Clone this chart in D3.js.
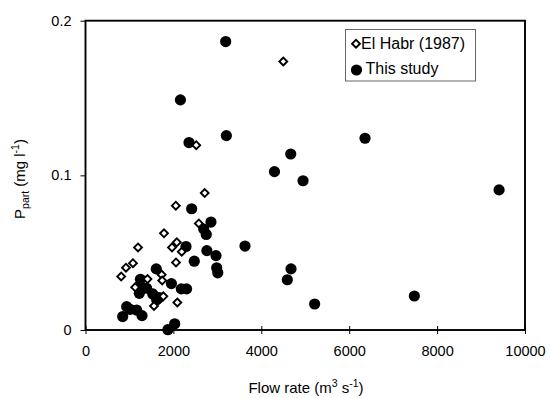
<!DOCTYPE html>
<html>
<head>
<meta charset="utf-8">
<script src="https://cdn.jsdelivr.net/npm/d3@7"></script>
<style>
  html, body { margin: 0; padding: 0; background: #fff; }
  svg { display: block; font-family: "Liberation Sans", Arial, sans-serif; }
</style>
</head>
<body>
<svg id="chart" width="550" height="398"></svg>
<script>
// Flow rate (m3 s-1) and particulate P (mg l-1)
const elHabrFlow = [4500, 2520, 2712, 2055, 2578, 1786, 1195, 2078, 1968, 2190, 2059,
                    1080, 921, 812, 1733, 1410, 1745, 1130, 1771, 1558, 2089];
const elHabrP    = [0.1736, 0.1195, 0.0886, 0.0804, 0.0689, 0.0625, 0.0534, 0.0567, 0.0534, 0.0506, 0.0437,
                    0.0432, 0.0403, 0.0346, 0.0358, 0.0329, 0.0320, 0.0276, 0.0218, 0.0155, 0.0178];

const studyFlow = [3190, 2160, 2355, 3205, 4300, 6360, 4670, 4950, 9410, 4676, 4592, 5214, 7482, 3629,
                   2415, 2855, 2690, 2748, 2287, 2762, 2969, 2475, 2985, 3010,
                   1610, 1250, 1955, 1235, 2180, 2300, 1225, 1390, 1530, 1680, 1620,
                   937, 1013, 1164, 846, 1286, 1875, 2030];
const studyP    = [0.1865, 0.1488, 0.1212, 0.1257, 0.1024, 0.1240, 0.1138, 0.0965, 0.0906, 0.0395, 0.0325, 0.0168, 0.0220, 0.0543,
                   0.0784, 0.0698, 0.0653, 0.0618, 0.0540, 0.0513, 0.0481, 0.0445, 0.0402, 0.0370,
                   0.0395, 0.0328, 0.0300, 0.0287, 0.0266, 0.0266, 0.0237, 0.0270, 0.0233, 0.0210, 0.0195,
                   0.0151, 0.0134, 0.0129, 0.0087, 0.0093, 0.0002, 0.0040];

const xTicks = [0, 2000, 4000, 6000, 8000, 10000];
const yTicks = [0, 0.1, 0.2];
const legendLabels = ["El Habr (1987)", "This study"];

const svg = d3.select("#chart");
const plotL = 85.5, plotR = 525, plotT = 20.7, plotB = 330;

const x = d3.scaleLinear().domain([0, 10000]).range([plotL, plotR]);
const y = d3.scaleLinear().domain([0, 0.2]).range([plotB, plotT]);

// plot frame
svg.append("rect")
  .attr("x", plotL).attr("y", plotT)
  .attr("width", plotR - plotL).attr("height", plotB - plotT)
  .attr("fill", "none").attr("stroke", "#000").attr("stroke-width", 1.9);

// x axis: ticks straddle the baseline
const xAxis = svg.append("g").attr("transform", `translate(0,${plotB})`)
  .call(d3.axisBottom(x).tickValues(xTicks).tickFormat(d3.format("d"))
    .tickSizeInner(4).tickSizeOuter(0).tickPadding(12));
xAxis.select(".domain").remove();
xAxis.selectAll(".tick line").attr("y1", -4).attr("y2", 4).attr("stroke", "#000").attr("stroke-width", 1);
xAxis.selectAll(".tick text").attr("font-size", "14.5px").attr("fill", "#000")
  .attr("font-family", "'Liberation Sans', Arial, sans-serif");

// y axis
const yAxis = svg.append("g").attr("transform", `translate(${plotL},0)`)
  .call(d3.axisLeft(y).tickValues(yTicks).tickFormat(d => d === 0 ? "0" : d3.format(".1f")(d))
    .tickSizeInner(5).tickSizeOuter(0).tickPadding(9));
yAxis.select(".domain").remove();
yAxis.selectAll(".tick line").attr("stroke", "#000").attr("stroke-width", 1);
yAxis.selectAll(".tick text").attr("font-size", "14.5px").attr("fill", "#000")
  .attr("font-family", "'Liberation Sans', Arial, sans-serif");

// axis titles
const xTitle = svg.append("text")
  .attr("x", 306).attr("y", 393)
  .attr("text-anchor", "middle").attr("font-size", "15px").attr("fill", "#000");
xTitle.append("tspan").text("Flow rate (m");
xTitle.append("tspan").attr("font-size", "10.5px").attr("dy", -6).text("3");
xTitle.append("tspan").attr("dy", 6).text(" s");
xTitle.append("tspan").attr("font-size", "10.5px").attr("dy", -6).text("-1");
xTitle.append("tspan").attr("dy", 6).text(")");

const yTitle = svg.append("text")
  .attr("transform", "translate(25,179) rotate(-90)")
  .attr("text-anchor", "middle").attr("font-size", "15px").attr("fill", "#000");
yTitle.append("tspan").text("P");
yTitle.append("tspan").attr("font-size", "10.5px").attr("dy", 4).text("part");
yTitle.append("tspan").attr("dy", -4).text(" (mg l");
yTitle.append("tspan").attr("font-size", "10.5px").attr("dy", -6).text("-1");
yTitle.append("tspan").attr("dy", 6).text(")");

// rotated-square marker
const diamond = d3.symbol().type(d3.symbolSquare).size(31);

const study = studyFlow.map((f, i) => ({ f, p: studyP[i] }));
const habr = elHabrFlow.map((f, i) => ({ f, p: elHabrP[i] }));

svg.append("g").selectAll("circle").data(study).join("circle")
  .attr("cx", d => x(d.f)).attr("cy", d => y(d.p))
  .attr("r", 5.6).attr("fill", "#000");

svg.append("g").selectAll("path").data(habr).join("path")
  .attr("d", diamond)
  .attr("transform", d => `translate(${x(d.f)},${y(d.p)}) rotate(45)`)
  .attr("fill", "#fff").attr("stroke", "#000").attr("stroke-width", 1.9);

// legend
const lg = svg.append("g");
lg.append("rect").attr("x", 345.5).attr("y", 29.5).attr("width", 130).attr("height", 51.5)
  .attr("fill", "#fff").attr("stroke", "#666").attr("stroke-width", 1);
lg.append("path").attr("d", diamond)
  .attr("transform", "translate(356,43.7) rotate(45)")
  .attr("fill", "#fff").attr("stroke", "#000").attr("stroke-width", 1.9);
lg.append("text").attr("x", 361).attr("y", 49).attr("font-size", "16px").attr("fill", "#000")
  .text(legendLabels[0]);
lg.append("circle").attr("cx", 356.5).attr("cy", 70).attr("r", 5.6).attr("fill", "#000");
lg.append("text").attr("x", 365.5).attr("y", 74).attr("font-size", "16px").attr("fill", "#000")
  .text(legendLabels[1]);
</script>
</body>
</html>
